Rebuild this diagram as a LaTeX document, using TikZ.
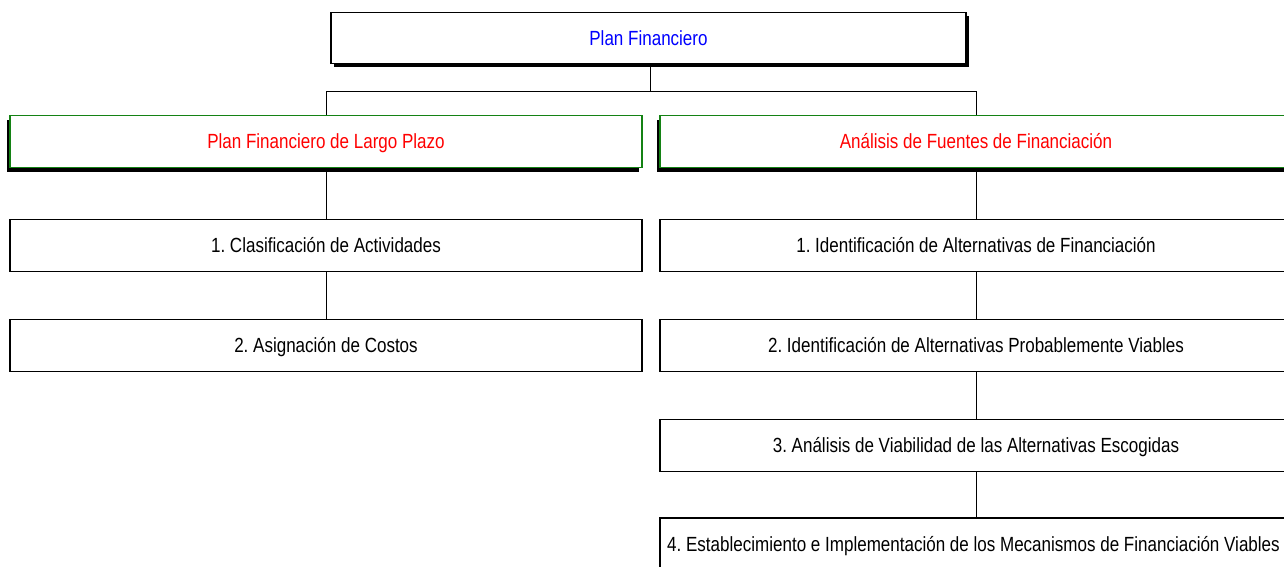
\documentclass[tikz,border=0pt]{standalone}
\usepackage{fontspec}
\setmainfont{Liberation Sans}[FakeStretch=0.83]
\usetikzlibrary{shadows}
\definecolor{boxgreen}{RGB}{20,130,20}
\frenchspacing
\tikzset{
  base/.style={draw=black, fill=white, rectangle, inner sep=0pt, align=center,
    text height=18pt, text depth=4pt,
    font=\fontsize{20.5}{24}\selectfont, text=black, line width=1.2pt},
  topbox/.style={base, minimum width=635pt, minimum height=51pt, text=blue, line width=1.6pt,
    drop shadow={shadow xshift=3pt, shadow yshift=-3pt, fill=black, opacity=1}},
  secbox/.style={base, minimum width=632pt, minimum height=52pt, draw=boxgreen, text=red, line width=1.4pt,
    drop shadow={shadow xshift=-3pt, shadow yshift=-4pt, fill=black, opacity=1}},
  stepbox/.style={base, minimum width=632pt, minimum height=52pt},
  conn/.style={draw=black, line width=0.9pt}
}
\begin{document}
\begin{tikzpicture}[x=1pt,y=-1pt]
\useasboundingbox (0,0) rectangle (1284,566);
\clip (0,0) rectangle (1284,566);
\node[topbox] (top) at (648.5,38) {Plan Financiero};
\node[secbox] (L) at (326,141.5) {Plan Financiero de Largo Plazo};
\node[secbox] (R) at (976,141.5) {Análisis de Fuentes de Financiación};
\node[stepbox] (L1) at (326,245.5) {1. Clasificación de Actividades};
\node[stepbox] (L2) at (326,345.5) {2. Asignación de Costos};
\node[stepbox] (R1) at (976,245.5) {1. Identificación de Alternativas de Financiación};
\node[stepbox] (R2) at (976,345.5) {2. Identificación de Alternativas Probablemente Viables};
\node[stepbox] (R3) at (976,445.5) {3. Análisis de Viabilidad de las Alternativas Escogidas};
\node[stepbox] (R4) at (976,544) {4. Establecimiento e Implementación de los Mecanismos de Financiación Viables\kern5pt};
\coordinate (bus) at (650,91);
\draw[conn] (top.south -| bus) -- (bus);
\draw[conn] (bus) -| (L.north);
\draw[conn] (bus) -| (R.north);
\draw[conn] (L.south) -- (L1.north);
\draw[conn] (L1.south) -- (L2.north);
\draw[conn] (R.south) -- (R1.north);
\draw[conn] (R1.south) -- (R2.north);
\draw[conn] (R2.south) -- (R3.north);
\draw[conn] (R3.south) -- (R4.north);
\end{tikzpicture}
\end{document}
